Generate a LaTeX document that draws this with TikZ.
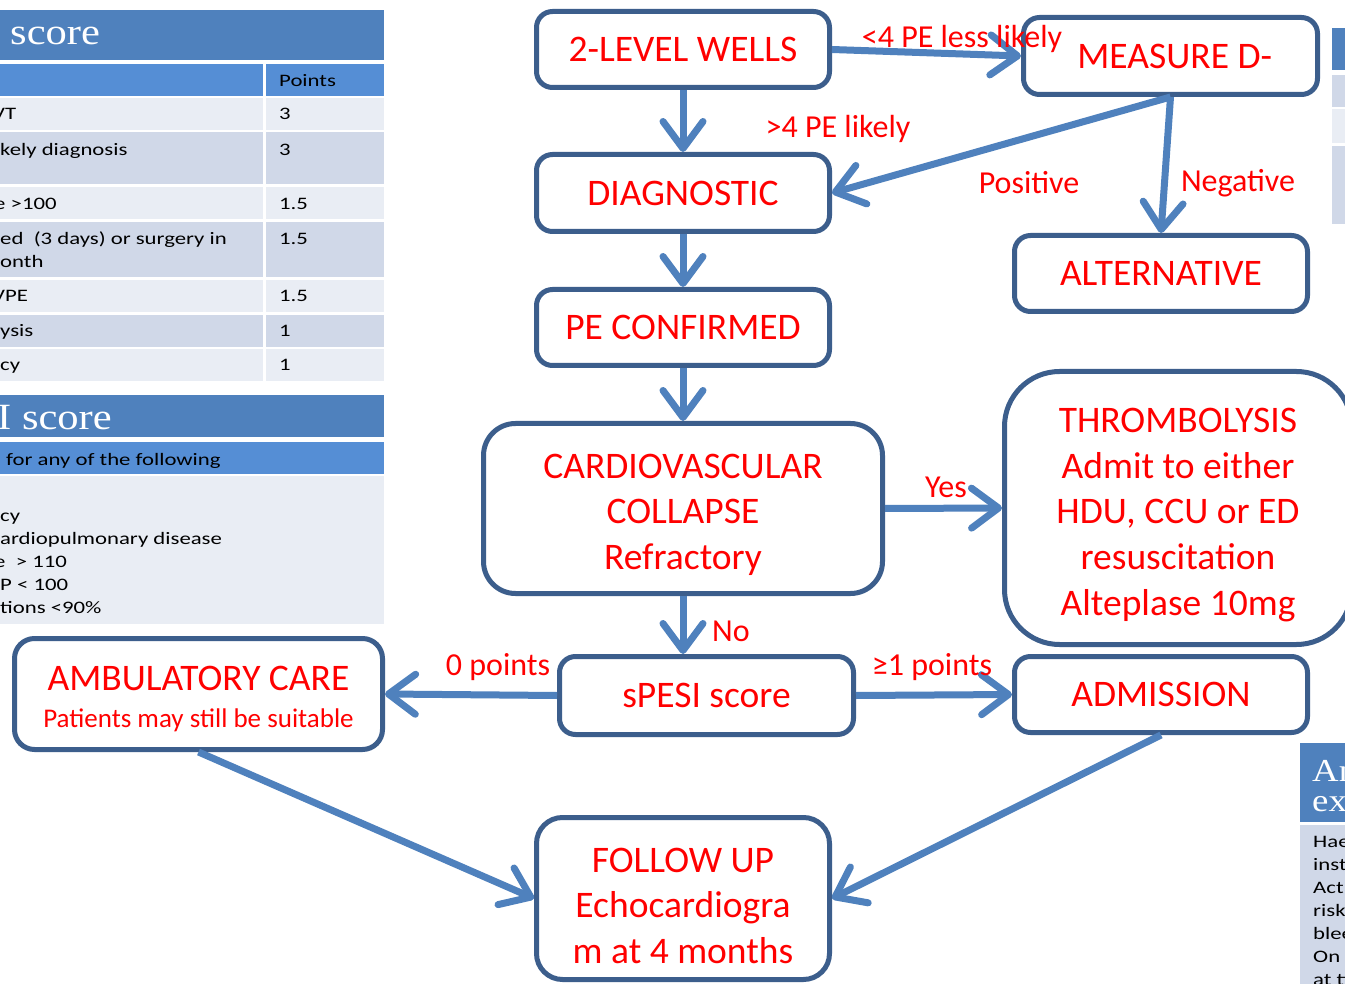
\documentclass[tikz,border=0pt]{standalone}
\usepackage{fontspec}
\setmainfont{Carlito}
\newfontfamily\tabfont[FakeStretch=1.3]{Carlito}
\newfontfamily\titfont[FakeStretch=1.15]{Liberation Serif}
\usetikzlibrary{arrows.meta}
\definecolor{boxblue}{RGB}{60,94,140}
\definecolor{arrblue}{RGB}{79,129,189}
\definecolor{barblue}{RGB}{79,129,189}
\definecolor{hdrblue}{RGB}{85,142,213}
\definecolor{rowa}{RGB}{233,237,244}
\definecolor{rowb}{RGB}{208,216,232}
\newcommand{\topstrut}[1]{\rule{0pt}{#1}}
\begin{document}
\begin{tikzpicture}[x=1pt,y=-1pt,
  fbox/.style={draw=boxblue, line width=5pt, fill=white, text=red, align=center,
    font=\fontsize{37.5}{45.7}\selectfont, inner sep=0pt},
  arr/.style={draw=arrblue, line width=7pt,
    -{Straight Barb[length=27pt,width=40pt,line cap=round,line join=round]}},
  lbl/.style={text=red, font=\fontsize{32}{37}\selectfont, inner sep=0pt},
  ttext/.style={font=\tabfont\fontsize{17.5}{23}\selectfont, anchor=base west, inner sep=0pt, text=black},
  ttitle/.style={font=\titfont\fontsize{37}{32}\selectfont, anchor=base west, inner sep=0pt, text=white},
  stitle/.style={font=\titfont\fontsize{32}{28}\selectfont, anchor=base west, inner sep=0pt, text=white},
]
\useasboundingbox (0,0) rectangle (1345,984);
\fill[white] (0,0) rectangle (1345,984);

% ---------- left table 1 ----------
\fill[barblue] (0,10) rectangle (384,60);
\node[ttitle] (t1title) at (10,45) {score};
\fill[hdrblue] (0,64) rectangle (263,96);
\fill[hdrblue] (266,64) rectangle (384,96);
\node[ttext] (t1h) at (279,87) {Points};
\foreach \a/\b/\c in {98/130/rowa,132/184/rowb,187/219/rowa,222/277/rowb,280/312/rowa,315/347/rowb,349/381/rowa}{
  \fill[\c] (0,\a) rectangle (263,\b);
  \fill[\c] (266,\a) rectangle (384,\b);
}
\node[ttext] (r1a) at (-8,120) {VT};
\node[ttext] (r1b) at (279,120) {3};
\node[ttext] (r2a) at (0,156) {kely diagnosis};
\node[ttext] (r2b) at (279,156) {3};
\node[ttext] (r3a) at (-6,210) {e >100};
\node[ttext] (r3b) at (279,210) {1.5};
\node[ttext] (r4a) at (0,245) {ed\ \ (3 days) or surgery in};
\node[ttext] (r4c) at (0,268) {onth};
\node[ttext] (r4b) at (279,245) {1.5};
\node[ttext] (r5a) at (-8,302) {VPE};
\node[ttext] (r5b) at (279,302) {1.5};
\node[ttext] (r6a) at (0,337) {ysis};
\node[ttext] (r6b) at (279,337) {1};
\node[ttext] (r7a) at (0,371) {cy};
\node[ttext] (r7b) at (279,371) {1};

% ---------- left table 2 ----------
\fill[barblue] (0,395) rectangle (384,437);
\node[ttitle] (t2title) at (-3,430) {I score};
\fill[hdrblue] (0,442) rectangle (384,474);
\node[ttext] (t2h) at (6,465) {for any of the following};
\fill[rowa] (0,476) rectangle (384,624);
\node[ttext] (s1) at (0,521) {cy};
\node[ttext] (s2) at (0,544) {ardiopulmonary disease};
\node[ttext] (s3) at (-6,567) {e\ \ > 110};
\node[ttext] (s4) at (0,590) {P < 100};
\node[ttext] (s5) at (0,613) {tions <90\%};

% ---------- right tables (cut off) ----------
\fill[barblue] (1332,28) rectangle (1345,70);
\fill[rowb] (1332,75) rectangle (1345,107);
\fill[rowa] (1332,109) rectangle (1345,143);
\fill[rowb] (1332,146) rectangle (1345,224);

\fill[barblue] (1300,743) rectangle (1345,822);
\node[stitle] (t3a) at (1312,781) {An};
\node[stitle] (t3b) at (1312,811) {ex};
\fill[rowb] (1300,825) rectangle (1345,984);
\node[ttext] (u1) at (1313,847) {Hae};
\node[ttext] (u2) at (1313,870) {inst};
\node[ttext] (u3) at (1313,893) {Act};
\node[ttext] (u4) at (1313,916) {risk};
\node[ttext] (u5) at (1313,939) {blee};
\node[ttext] (u6) at (1313,962) {On a};
\node[ttext] (u7) at (1313,985) {at ti};

% ---------- flowchart boxes ----------
\node[fbox, minimum width=293pt, minimum height=76pt, rounded corners=16pt] (w) at (683,49.5) {2-LEVEL WELLS};
\node[fbox, minimum width=294pt, minimum height=77pt, rounded corners=16pt] (m) at (1170.5,56) {\ MEASURE D-};
\node[fbox, minimum width=293pt, minimum height=77pt, rounded corners=16pt] (d) at (683,193) {DIAGNOSTIC};
\node[fbox, minimum width=293pt, minimum height=76pt, rounded corners=16pt] (alt) at (1161,273.5) {ALTERNATIVE};
\node[fbox, minimum width=293pt, minimum height=76pt, rounded corners=16pt] (pe) at (683,327.5) {PE CONFIRMED};
\node[fbox, minimum width=399pt, minimum height=170pt, rounded corners=32pt] (cv) at (683,508.5) {\topstrut{37pt}CARDIOVASCULAR\\COLLAPSE\\Refractory};
\node[fbox, minimum width=347pt, minimum height=273pt, rounded corners=55pt] (th) at (1178,508) {\topstrut{38pt}THROMBOLYSIS\\Admit to either\\HDU, CCU or ED\\resuscitation\\Alteplase 10mg};
\node[fbox, minimum width=294pt, minimum height=78pt, rounded corners=16pt] (sp) at (706.5,695.5) {sPESI score};
\node[fbox, minimum width=368pt, minimum height=111pt, rounded corners=20pt] (amb) at (198.5,694) {\topstrut{35pt}AMBULATORY CARE\\[-9pt]{\fontsize{27}{30}\selectfont Patients may still be suitable}};
\node[fbox, minimum width=293pt, minimum height=76pt, rounded corners=16pt] (adm) at (1161,694.5) {ADMISSION};
\node[fbox, minimum width=293pt, minimum height=162pt, rounded corners=26pt] (fu) at (683,898.5) {\topstrut{39pt}FOLLOW UP\\Echocardiogra\\m at 4 months};

% ---------- connectors ----------
\draw[arr] (w.east) -- (m.west);
\draw[arr] (w.south) -- (d.north);
\draw[arr] (m.south) -- (d.east);
\draw[arr] (m.south) -- (alt.north);
\draw[arr] (d.south) -- (pe.north);
\draw[arr] (pe.south) -- (cv.north);
\draw[arr] (cv.east) -- (th.west);
\draw[arr] (cv.south) -- (cv.south |- sp.north);
\draw[arr] (sp.west) -- (amb.east);
\draw[arr] (sp.east) -- (adm.west);
\draw[arr] (amb.south) -- (fu.west);
\draw[arr] (adm.south) -- (fu.east);

% ---------- labels ----------
\node[lbl] (l1) at (962,39) {<4 PE less likely};
\node[lbl] (l2) at (838,129) {>4 PE likely};
\node[lbl] (l3) at (1029,183) {Positive};
\node[lbl] (l4) at (1238,183) {Negative};
\node[lbl] (l5) at (946,487) {Yes};
\node[lbl] (l6) at (731,631) {No};
\node[lbl] (l7) at (498,667) {0 points};
\node[lbl] (l8) at (932,667) {≥1 points};
\end{tikzpicture}
\end{document}
